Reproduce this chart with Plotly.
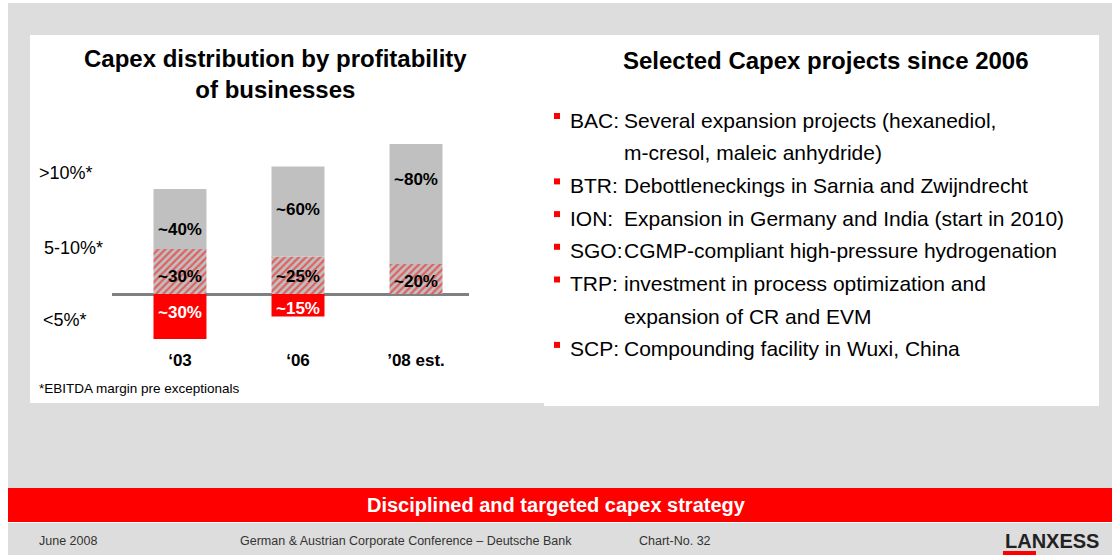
import plotly.graph_objects as go

# ---------------- data ----------------
categories = ["‘03", "‘06", "’08 est."]
share_high = [40, 60, 80]    # EBITDA margin >10%
share_mid = [30, 25, 20]     # EBITDA margin 5-10%
share_low = [30, 15, 0]      # EBITDA margin <5%
band_labels = [">10%*", "5-10%*", "<5%*"]

left_title = "Capex distribution by profitability<br>of businesses"
right_title = "Selected Capex projects since 2006"
footnote = "*EBITDA margin pre exceptionals"
projects = [
    ("BAC:", ["Several expansion projects (hexanediol,", "m-cresol, maleic anhydride)"]),
    ("BTR:", ["Debottleneckings in Sarnia and Zwijndrecht"]),
    ("ION:", ["Expansion in Germany and India (start in 2010)"]),
    ("SGO:", ["CGMP-compliant high-pressure hydrogenation"]),
    ("TRP:", ["investment in process optimization and", "expansion of CR and EVM"]),
    ("SCP:", ["Compounding facility in Wuxi, China"]),
]
banner = "Disciplined and targeted capex strategy"
footer_left = "June 2008"
footer_mid = "German & Austrian Corporate Conference – Deutsche Bank"
footer_chart = "Chart-No. 32"
logo = "LANXESS"

# ---------------- style ----------------
W, H = 1112, 555
GRAY_BG = "#DDDDDD"
BAR_GRAY = "#C0C0C0"
RED = "#FF0000"
FONT = "Liberation Sans, Arial, sans-serif"


def px(x):
    return x / W


def py(y):
    return 1 - y / H


fig = go.Figure()

low_vals = [-v if v else None for v in share_low]
fig.add_trace(go.Bar(x=categories, y=low_vals, marker=dict(color=RED, line=dict(width=0)),
                     hoverinfo="skip"))
fig.add_trace(go.Bar(x=categories, y=share_mid,
                     marker=dict(color=BAR_GRAY, line=dict(width=0),
                                 pattern=dict(shape="/", fgcolor=RED, bgcolor=BAR_GRAY,
                                              size=5, solidity=0.45)),
                     hoverinfo="skip"))
fig.add_trace(go.Bar(x=categories, y=share_high, marker=dict(color=BAR_GRAY, line=dict(width=0)),
                     hoverinfo="skip"))

annotations = []
# segment labels (offsets in px, positive = up)
off_high = [-10, 2, 25]
off_mid = [-5, -1, -2]
off_low = [4, -3, 0]
for i, c in enumerate(categories):
    annotations.append(dict(x=c, y=share_mid[i] + share_high[i] / 2, xref="x", yref="y",
                            text=f"~{share_high[i]}%", showarrow=False, yshift=off_high[i],
                            font=dict(family=FONT, size=17, color="black", weight="bold")))
    annotations.append(dict(x=c, y=share_mid[i] / 2, xref="x", yref="y",
                            text=f"~{share_mid[i]}%", showarrow=False, yshift=off_mid[i],
                            font=dict(family=FONT, size=17, color="black", weight="bold")))
    if share_low[i]:
        annotations.append(dict(x=c, y=-share_low[i] / 2, xref="x", yref="y",
                                text=f"~{share_low[i]}%", showarrow=False, yshift=off_low[i],
                                font=dict(family=FONT, size=17, color="white", weight="bold")))

# band labels on the left
band_pos = [(37, 173), (42, 248), (41, 320)]
for lab, (bx, by) in zip(band_labels, band_pos):
    annotations.append(dict(x=px(bx), y=py(by), xref="paper", yref="paper", text=lab,
                            showarrow=False, xanchor="left", yanchor="middle",
                            font=dict(family=FONT, size=18, color="black")))

# titles
annotations.append(dict(x=px(275), y=py(74), xref="paper", yref="paper", text=left_title,
                        showarrow=False, xanchor="center", yanchor="middle",
                        font=dict(family=FONT, size=24, color="black", weight="bold")))
annotations.append(dict(x=px(826), y=py(61), xref="paper", yref="paper", text=right_title,
                        showarrow=False, xanchor="center", yanchor="middle",
                        font=dict(family=FONT, size=24, color="black", weight="bold")))
annotations.append(dict(x=px(37), y=py(389), xref="paper", yref="paper", text=footnote,
                        showarrow=False, xanchor="left", yanchor="middle",
                        font=dict(family=FONT, size=13.5, color="black")))

# bullet list
shapes = []
bullet_shapes = []
line_y0, line_step = 120, 32.7
row = 0
for code, lines in projects:
    y = line_y0 + row * line_step
    bullet_shapes.append(dict(type="rect", xref="paper", yref="paper", x0=px(554), x1=px(560),
                              y0=py(y - 1), y1=py(y - 7), fillcolor=RED, line=dict(width=0),
                              layer="above"))
    annotations.append(dict(x=px(568), y=py(y), xref="paper", yref="paper", text=code,
                            showarrow=False, xanchor="left", yanchor="middle",
                            font=dict(family=FONT, size=21, color="black")))
    for ln in lines:
        y = line_y0 + row * line_step
        annotations.append(dict(x=px(622), y=py(y), xref="paper", yref="paper", text=ln,
                                showarrow=False, xanchor="left", yanchor="middle",
                                font=dict(family=FONT, size=21, color="black")))
        row += 1

# banner + footer
annotations.append(dict(x=px(556), y=py(505), xref="paper", yref="paper", text=banner,
                        showarrow=False, xanchor="center", yanchor="middle",
                        font=dict(family=FONT, size=20, color="white", weight="bold")))
for t, fx in [(footer_left, 37), (footer_mid, 238), (footer_chart, 637)]:
    annotations.append(dict(x=px(fx), y=py(541), xref="paper", yref="paper", text=t,
                            showarrow=False, xanchor="left", yanchor="middle",
                            font=dict(family=FONT, size=12.5, color="#333333")))
annotations.append(dict(x=px(1003), y=py(541), xref="paper", yref="paper", text=logo,
                        showarrow=False, xanchor="left", yanchor="middle",
                        font=dict(family=FONT, size=20, color="#222222", weight="bold")))

# background shapes (drawn in this order)
bg = [
    (8, 3, W, H, GRAY_BG),
    (30, 35, 544, 403, "white"),
    (544, 35, 1099, 406, "white"),
    (8, 488, W, 522, RED),
    (8, 522, W, 523, "white"),
]
for x0, y0, x1, y1, col in bg:
    shapes.append(dict(type="rect", xref="paper", yref="paper", x0=px(x0), x1=px(x1),
                       y0=py(y1), y1=py(y0), fillcolor=col, line=dict(width=0), layer="below"))
shapes.extend(bullet_shapes)
shapes.append(dict(type="rect", xref="paper", yref="paper", x0=px(1003), x1=px(1036),
                   y0=py(555), y1=py(551), fillcolor=RED, line=dict(width=0), layer="above"))

fig.update_layout(
    width=W, height=H, margin=dict(l=0, r=0, t=0, b=0),
    paper_bgcolor="white", plot_bgcolor="rgba(0,0,0,0)",
    barmode="relative", bargap=0.551, showlegend=False,
    xaxis=dict(domain=[px(112), px(469)], range=[-0.576, 2.449], type="category",
               showgrid=False, showline=False, ticks="", zeroline=False,
               ticklabelstandoff=3,
               tickfont=dict(family=FONT, size=17, color="black", weight="bold")),
    yaxis=dict(domain=[py(345), py(140)], range=[-34, 102.67], showgrid=False,
               showticklabels=False, zeroline=True, zerolinecolor="#808080", zerolinewidth=3,
               showline=False, ticks=""),
    annotations=annotations, shapes=shapes,
)

fig.write_html("out.html", config={"displayModeBar": False},
               post_script="document.body.style.margin='0';")
